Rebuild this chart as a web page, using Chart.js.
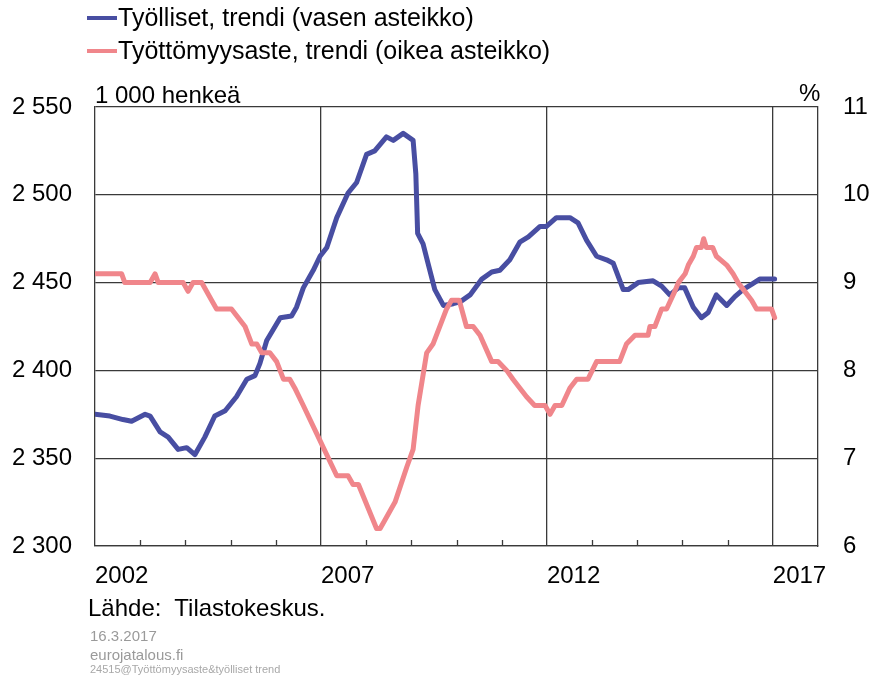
<!DOCTYPE html>
<html>
<head>
<meta charset="utf-8">
<title>Työlliset ja työttömyysaste</title>
<script src="https://cdn.jsdelivr.net/npm/chart.js@4/dist/chart.umd.min.js"></script>
<style>
    body { margin:0; background:#ffffff; font-family:"Liberation Sans", Arial, sans-serif; }
    #wrap { position:relative; width:871px; height:678px; overflow:hidden; }
    #chartCanvas { position:absolute; left:0; top:0; }
    .txt { position:absolute; white-space:pre; color:#000; }
</style>
</head>
<body>
<div id="wrap">
    <canvas id="chartCanvas" width="871" height="678"></canvas>
</div>
<script>
// Työlliset, trendi (1 000 henkeä)
let employedYears = [2002.00, 2002.33, 2002.62, 2002.81, 2003.11, 2003.22, 2003.44, 2003.62, 2003.84, 2004.03,
    2004.21, 2004.43, 2004.65, 2004.88, 2005.13, 2005.36, 2005.54, 2005.65, 2005.80, 2006.10,
    2006.35, 2006.46, 2006.61, 2006.83, 2006.98, 2007.13, 2007.35, 2007.60, 2007.79, 2008.01,
    2008.19, 2008.45, 2008.60, 2008.82, 2009.04, 2009.10, 2009.14, 2009.26, 2009.37, 2009.52,
    2009.71, 2009.93, 2010.08, 2010.30, 2010.56, 2010.78, 2010.96, 2011.18, 2011.40, 2011.59,
    2011.85, 2011.99, 2012.21, 2012.51, 2012.69, 2012.88, 2013.10, 2013.32, 2013.47, 2013.69,
    2013.80, 2014.02, 2014.35, 2014.54, 2014.72, 2014.91, 2015.05, 2015.24, 2015.42, 2015.57,
    2015.75, 2015.98, 2016.16, 2016.34, 2016.53, 2016.71, 2017.04];
let employedValues = [2375, 2374, 2372, 2371, 2375, 2374, 2365, 2362, 2355, 2356,
    2352, 2362, 2374, 2377, 2385, 2395, 2397, 2404, 2417, 2430,
    2431, 2436, 2447, 2457, 2465, 2470, 2487, 2501, 2507, 2523,
    2525, 2533, 2531, 2535, 2531, 2512, 2478, 2472, 2461, 2446,
    2437, 2438, 2439, 2443, 2452, 2456, 2457, 2463, 2473, 2476,
    2482, 2482, 2487, 2487, 2484, 2474, 2465, 2463, 2461, 2446,
    2446, 2450, 2451, 2448, 2443, 2447, 2447, 2436, 2430, 2433,
    2443, 2437, 2442, 2446, 2449, 2452, 2452];

// Työttömyysaste, trendi (%)
let unemploymentYears = [2002.00, 2002.59, 2002.66, 2003.22, 2003.33, 2003.40, 2003.95, 2004.06, 2004.17, 2004.36,
    2004.58, 2004.69, 2005.02, 2005.17, 2005.32, 2005.47, 2005.58, 2005.69, 2005.87, 2006.02,
    2006.17, 2006.31, 2006.42, 2006.61, 2006.98, 2007.35, 2007.60, 2007.71, 2007.83, 2008.23,
    2008.31, 2008.42, 2008.64, 2008.90, 2009.04, 2009.15, 2009.34, 2009.48, 2009.78, 2009.89,
    2010.06, 2010.22, 2010.37, 2010.52, 2010.78, 2010.92, 2011.11, 2011.25, 2011.40, 2011.55,
    2011.73, 2011.96, 2012.07, 2012.18, 2012.33, 2012.51, 2012.66, 2012.91, 2013.10, 2013.61,
    2013.76, 2013.95, 2014.24, 2014.28, 2014.39, 2014.54, 2014.65, 2014.83, 2014.91, 2015.06,
    2015.13, 2015.24, 2015.31, 2015.42, 2015.47, 2015.53, 2015.67, 2015.75, 2015.98, 2016.12,
    2016.23, 2016.38, 2016.53, 2016.64, 2016.97, 2017.04];
let unemploymentValues = [9.1, 9.1, 9.0, 9.0, 9.1, 9.0, 9.0, 8.9, 9.0, 9.0,
    8.8, 8.7, 8.7, 8.6, 8.5, 8.3, 8.3, 8.2, 8.2, 8.1,
    7.9, 7.9, 7.8, 7.6, 7.2, 6.8, 6.8, 6.7, 6.7, 6.2,
    6.2, 6.3, 6.5, 6.9, 7.1, 7.6, 8.2, 8.3, 8.7, 8.8,
    8.8, 8.5, 8.5, 8.4, 8.1, 8.1, 8.0, 7.9, 7.8, 7.7,
    7.6, 7.6, 7.5, 7.6, 7.6, 7.8, 7.9, 7.9, 8.1, 8.1,
    8.3, 8.4, 8.4, 8.5, 8.5, 8.7, 8.7, 8.9, 9.0, 9.1,
    9.2, 9.3, 9.4, 9.4, 9.5, 9.4, 9.4, 9.3, 9.2, 9.1,
    9.0, 8.9, 8.8, 8.7, 8.7, 8.6];

// axis ranges and labelled years
let labelledYears = [2002, 2007, 2012, 2017];
let leftTicks = [2300, 2350, 2400, 2450, 2500, 2550];
let rightTicks = [6, 7, 8, 9, 10, 11];

let blue = 'rgb(72,78,162)';
let pink = 'rgb(240,134,139)';
let gridColor = '#3a3a3a';

document.addEventListener('DOMContentLoaded', registerEvents);

function registerEvents(){
    addTexts();
    createChart();
}

function addText(text, left, top, size, color){
    let div = document.createElement('div');
    div.setAttribute("class", "txt");
    div.setAttribute("style", "left:" + left + "px; top:" + top + "px; font-size:" + size + "px; line-height:" + size + "px; color:" + color);
    div.textContent = text;
    document.getElementById('wrap').appendChild(div);
    return div;
}

function addLegendLine(color, top){
    let div = document.createElement('div');
    div.setAttribute("style", "position:absolute; left:87px; top:" + top + "px; width:30px; height:4px; background:" + color);
    document.getElementById('wrap').appendChild(div);
}

function addTexts(){
    addLegendLine(blue, 16);
    addText('Työlliset, trendi (vasen asteikko)', 118, 5, 25, '#000');
    addLegendLine(pink, 49);
    addText('Työttömyysaste, trendi (oikea asteikko)', 118, 38, 25, '#000');

    addText('1 000 henkeä', 95, 83, 24, '#000');
    addText('%', 799, 81, 24, '#000');

    addText('Lähde:  Tilastokeskus.', 88, 596, 24, '#000');
    addText('16.3.2017', 90, 628, 15, '#9a9a9a');
    addText('eurojatalous.fi', 90, 647, 15, '#9a9a9a');
    addText('24515@Työttömyysaste&työlliset trend', 90, 664, 11, '#a8a8a8');
}

// small inward ticks on the year axis
let yearTicks = {
    id: 'yearTicks',
    afterDraw(chart){
        let x = chart.scales.x;
        let bottom = chart.chartArea.bottom;
        let c = chart.ctx;
        c.save();
        c.strokeStyle = gridColor;
        c.lineWidth = 1.3;
        for(let year = 2003; year < 2018; year++){
            if(labelledYears.includes(year)) continue;
            let px = Math.round(x.getPixelForValue(year)) + 0.5;
            c.beginPath();
            c.moveTo(px, bottom);
            c.lineTo(px, bottom - 6);
            c.stroke();
        }
        c.restore();
    }
};

function formatThousands(v){
    return String(v).replace(/\B(?=(\d{3})+(?!\d))/g, ' ');
}

function createChart(){
    Chart.defaults.font.family = '"Liberation Sans", Arial, sans-serif';
    Chart.defaults.font.size = 24;
    Chart.defaults.color = '#000';

    let ctx = document.getElementById('chartCanvas');

    let data = {
        datasets: [
            {
                label: 'Työlliset, trendi (vasen asteikko)',
                data: employedYears.map((yr, i) => ({x: yr, y: employedValues[i]})),
                yAxisID: 'y',
                borderColor: blue,
                borderWidth: 5,
                pointRadius: 0,
                tension: 0,
                borderJoinStyle: 'round',
                borderCapStyle: 'round',
                order: 1
            },
            {
                label: 'Työttömyysaste, trendi (oikea asteikko)',
                data: unemploymentYears.map((yr, i) => ({x: yr, y: unemploymentValues[i]})),
                yAxisID: 'y2',
                borderColor: pink,
                borderWidth: 5,
                pointRadius: 0,
                tension: 0,
                borderJoinStyle: 'round',
                borderCapStyle: 'round',
                order: 0
            }
        ]
    };

    let config = {
        type: 'line',
        data: data,
        options: {
            responsive: false,
            animation: false,
            layout: { padding: { top: 107, bottom: 92, left: 0, right: 0 } },
            plugins: {
                legend: { display: false },
                tooltip: { enabled: false }
            },
            scales: {
                x: {
                    type: 'linear',
                    min: 2002,
                    max: 2018,
                    afterFit: s => { s.height = 40; },
                    ticks: {
                        stepSize: 1,
                        autoSkip: false,
                        maxRotation: 0,
                        align: 'start',
                        padding: 16,
                        callback: v => labelledYears.includes(v) ? String(v) : ''
                    },
                    grid: {
                        drawTicks: false,
                        lineWidth: 1.3,
                        color: c => (c.tick && labelledYears.includes(c.tick.value) && c.tick.value !== 2002) ? gridColor : 'rgba(0,0,0,0)'
                    },
                    border: { color: gridColor, width: 1.3 }
                },
                y: {
                    position: 'left',
                    min: leftTicks[0],
                    max: leftTicks[leftTicks.length - 1],
                    afterFit: s => { s.width = 95; },
                    afterBuildTicks: s => { s.ticks = leftTicks.map(v => ({value: v})); },
                    ticks: { padding: 23, callback: v => formatThousands(v) },
                    grid: { drawTicks: false, color: gridColor, lineWidth: 1.3 },
                    border: { color: gridColor, width: 1.3 }
                },
                y2: {
                    position: 'right',
                    min: rightTicks[0],
                    max: rightTicks[rightTicks.length - 1],
                    afterFit: s => { s.width = 53; },
                    afterBuildTicks: s => { s.ticks = rightTicks.map(v => ({value: v})); },
                    ticks: { padding: 25, callback: v => String(v) },
                    grid: { drawOnChartArea: false, drawTicks: false },
                    border: { color: gridColor, width: 1.3 }
                }
            }
        },
        plugins: [yearTicks]
    };

    new Chart(ctx, config);
}
</script>
</body>
</html>
